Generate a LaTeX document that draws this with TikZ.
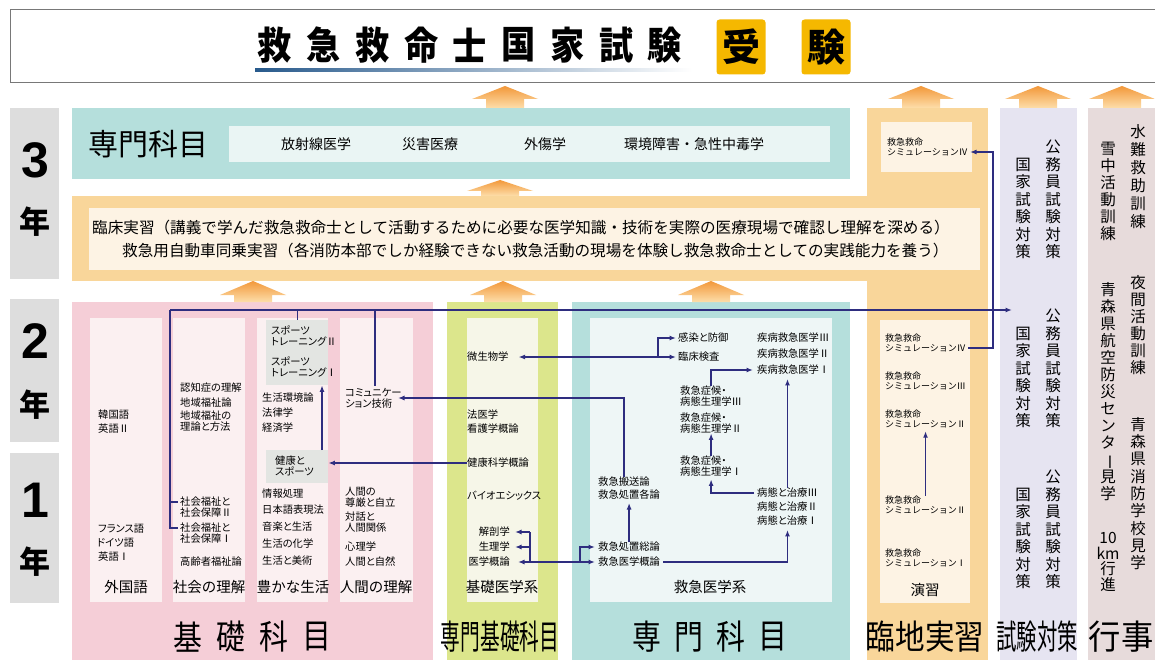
\documentclass[tikz,border=0pt]{standalone}
\usepackage{fontspec}
\setmainfont{Noto Sans CJK JP}
\newfontfamily\jpp{Noto Sans CJK JP}[RawFeature=+palt]
\newfontfamily\arialf{Liberation Sans}
\usetikzlibrary{arrows.meta}
\definecolor{lc}{RGB}{46,45,127}
\definecolor{titgray}{RGB}{120,120,120}
\definecolor{ulblue}{RGB}{40,90,140}
\definecolor{gold}{RGB}{245,184,0}
\definecolor{yr}{RGB}{221,221,221}
\definecolor{tealb}{RGB}{181,223,220}
\definecolor{tealin}{RGB}{234,245,244}
\definecolor{tealin2}{RGB}{238,246,246}
\definecolor{orng}{RGB}{249,214,154}
\definecolor{cream}{RGB}{253,243,228}
\definecolor{lav}{RGB}{230,228,241}
\definecolor{gyoji}{RGB}{231,219,219}
\definecolor{pinkb}{RGB}{245,206,215}
\definecolor{pinkin}{RGB}{251,240,241}
\definecolor{greenb}{RGB}{220,230,140}
\definecolor{greenin}{RGB}{246,246,232}
\definecolor{gbox}{RGB}{227,229,226}
\definecolor{orA}{RGB}{242,152,58}
\definecolor{orB}{RGB}{253,222,170}
\newcommand\orarrow[4]{%
  \shade[top color=orA, bottom color=orB] (#1-33,#3) -- (#1,#2) -- (#1+33,#3) -- (#1+19,#3) -- (#1+19,#4) -- (#1-19,#4) -- (#1-19,#3) -- cycle;}
\newcommand\vbar{\rotatebox[origin=c]{-90}{ー}}
\begin{document}
\begin{tikzpicture}[x=1pt,y=-1pt,
  sm/.style={font=\jpp\fontsize{10.3}{11}\selectfont, anchor=west, align=left, inner sep=0pt},
  smr/.style={sm, anchor=east, align=right},
  sim/.style={font=\fontsize{9}{10}\selectfont, anchor=west, align=left, inner sep=0pt},
  lab/.style={font=\fontsize{14.5}{16}\selectfont, inner sep=0pt},
  mid/.style={font=\fontsize{14}{16}\selectfont, inner sep=0pt},
  vt/.style={font=\fontsize{15.5}{17.5}\selectfont, align=center, inner sep=0pt, anchor=north},
  big/.style={font=\fontsize{34}{36}\selectfont, inner sep=0pt},
  con/.style={draw=lc, line width=1.3pt},
  arr/.style={con, -{Latex[length=6.5pt,width=5pt]}},
]
\useasboundingbox (0,0) rectangle (1155,660);
\fill[white] (0,0) rectangle (1155,660);

% ---------- title ----------
\draw[titgray, line width=1pt, fill=white] (10,10) rectangle (1170,83);
\shade[left color=ulblue, right color=white] (255,68.5) rectangle (692,72);
\foreach \c [count=\i from 0] in {救,急,救,命,士,国,家,試,験}
  \node[font=\fontsize{38}{40}\selectfont\bfseries, inner sep=0pt] (t\i) at (275+48.75*\i,45) {\scalebox{0.9}[1]{\c}};
\node[fill=gold, rounded corners=3pt, minimum width=49pt, minimum height=55pt, inner sep=0pt, font=\fontsize{38}{40}\selectfont\bfseries] (ju) at (741,47) {受};
\node[fill=gold, rounded corners=3pt, minimum width=49pt, minimum height=55pt, inner sep=0pt, font=\fontsize{38}{40}\selectfont\bfseries] (ken) at (826,47) {験};

% ---------- year labels ----------
\fill[yr] (10,108) rectangle (59,279);
\fill[yr] (10,299) rectangle (59,442);
\fill[yr] (10,453) rectangle (59,603);
\node[font=\arialf\fontsize{50}{52}\selectfont\bfseries, inner sep=0pt] (y3) at (35,160) {3};
\node[font=\fontsize{31}{33}\selectfont\bfseries, inner sep=0pt] (y3n) at (35,222) {年};
\node[font=\arialf\fontsize{50}{52}\selectfont\bfseries, inner sep=0pt] (y2) at (35,341) {2};
\node[font=\fontsize{31}{33}\selectfont\bfseries, inner sep=0pt] (y2n) at (35,405) {年};
\node[font=\arialf\fontsize{50}{52}\selectfont\bfseries, inner sep=0pt] (y1) at (35,500) {1};
\node[font=\fontsize{31}{33}\selectfont\bfseries, inner sep=0pt] (y1n) at (35,562) {年};

% ---------- boxes ----------
\fill[tealb] (72,108) rectangle (850,179);
\fill[tealin] (229,126) rectangle (830,162);
\fill[orng] (72,196) rectangle (988,281);
\fill[orng] (867,108) rectangle (988,662);
\fill[cream] (89,208) rectangle (980,270);
\fill[cream] (881,122) rectangle (972,172);
\fill[cream] (880,320) rectangle (970,603);
\fill[lav] (1000,108) rectangle (1077,662);
\fill[gyoji] (1088,108) rectangle (1170,662);
\fill[pinkb] (72,302) rectangle (433,662);
\fill[pinkin] (90,318) rectangle (162,602);
\fill[pinkin] (173,318) rectangle (245,602);
\fill[pinkin] (257,318) rectangle (328,602);
\fill[pinkin] (340,318) rectangle (413,602);
\fill[greenb] (447,302) rectangle (558,662);
\fill[greenin] (467,318) rectangle (538,602);
\fill[tealb] (572,302) rectangle (850,662);
\fill[tealin2] (590,318) rectangle (832,602);
\node[fill=gbox, minimum width=62pt, minimum height=65pt, inner sep=0pt, anchor=north west] (spobox) at (266,320) {};
\node[fill=gbox, minimum width=62pt, minimum height=33pt, inner sep=0pt, anchor=north west] (kenbox) at (266,450) {};

% ---------- orange arrows ----------
\orarrow{505}{86}{99}{108}
\orarrow{921}{86}{99}{108}
\orarrow{1038}{86}{99}{108}
\orarrow{1122}{86}{99}{108}
\orarrow{500}{180}{191}{196}
\orarrow{253}{281}{295}{302}
\orarrow{503}{281}{295}{302}
\orarrow{711}{281}{295}{302}

% ---------- year 3 texts ----------
\node[font=\fontsize{30}{32}\selectfont, inner sep=0pt] (senmon3) at (148,144) {専門科目};
\node[mid] (hosha) at (316,144) {放射線医学};
\node[mid] (saigai) at (430,144) {災害医療};
\node[mid] (gaisho) at (545,144) {外傷学};
\node[mid] (kankyo) at (694,144) {環境障害・急性中毒学};
\node[font=\fontsize{15.6}{18}\selectfont, inner sep=0pt, anchor=west] (rin1) at (92,228) {臨床実習（講義で学んだ救急救命士として活動するために必要な医学知識・技術を実際の医療現場で確認し理解を深める）};
\node[font=\fontsize{15.6}{18}\selectfont, inner sep=0pt, anchor=west] (rin2) at (122,251) {救急用自動車同乗実習（各消防本部でしか経験できない救急活動の現場を体験し救急救命士としての実践能力を養う）};

% ---------- foreign language ----------
\node[sm] (kan) at (98,415) {韓国語};
\node[sm] (ei2) at (98,429) {英語Ⅱ};
\node[sm] (fra) at (98,529) {フランス語};
\node[sm] (doi) at (97,543) {ドイツ語};
\node[sm] (ei1) at (98,557) {英語Ⅰ};
\node[lab] (gaikoku) at (126,587) {外国語};
% society
\node[sm] (nin) at (180,388) {認知症の理解};
\node[sm] (chi1) at (180,403) {地域福祉論};
\node[sm] (chi2) at (180,421) {地域福祉の\\理論と方法};
\node[sm] (sw2) at (180,507) {社会福祉と\\社会保障Ⅱ};
\node[sm] (sw1) at (180,533) {社会福祉と\\社会保障Ⅰ};
\node[sm] (kou) at (180,562) {高齢者福祉論};
\node[lab] (shakai) at (209,587) {社会の理解};
% life
\node[sm] (sp2) at (271,336) {スポーツ\\トレーニングⅡ};
\node[sm] (sp1) at (271,367) {スポーツ\\トレーニングⅠ};
\node[sm] (sei) at (262,398) {生活環境論};
\node[sm] (hou) at (262,413) {法律学};
\node[sm] (kei) at (262,428) {経済学};
\node[sm] (ksp) at (275,466) {健康と\\スポーツ};
\node[sm] (jou) at (262,494) {情報処理};
\node[sm] (nih) at (262,510) {日本語表現法};
\node[sm] (ong) at (262,527) {音楽と生活};
\node[sm] (kag) at (262,544) {生活の化学};
\node[sm] (bij) at (262,561) {生活と美術};
\node[lab] (yutaka) at (293,587) {豊かな生活};
% human
\node[sm] (comm) at (345,398) {コミュニケー\\ション技術};
\node[sm] (son) at (345,497) {人間の\\尊厳と自立};
\node[sm] (tai) at (345,522) {対話と\\人間関係};
\node[sm] (shin) at (345,547) {心理学};
\node[sm] (shz) at (345,562) {人間と自然};
\node[lab] (ningen) at (376,587) {人間の理解};
% basic medicine
\node[sm] (bis) at (467,357) {微生物学};
\node[sm] (hoi) at (467,415) {法医学};
\node[sm] (kgo) at (467,429) {看護学概論};
\node[sm] (kkg) at (467,463) {健康科学概論};
\node[sm] (bio) at (467,496) {バイオエシックス};
\node[smr] (kai) at (510,532) {解剖学};
\node[smr] (seiri) at (510,547) {生理学};
\node[smr] (igk) at (510,562) {医学概論};
\node[lab] (kiso) at (502,587) {基礎医学系};
% emergency medicine
\node[sm] (kans) at (678,338) {感染と防御};
\node[sm] (rin) at (678,357) {臨床検査};
\node[sm] (shi3) at (757,338) {疾病救急医学Ⅲ};
\node[sm] (shi2) at (757,354) {疾病救急医学Ⅱ};
\node[sm] (shi1) at (757,370) {疾病救急医学Ⅰ};
\node[sm] (sho3) at (680,396) {救急症候・\\病態生理学Ⅲ};
\node[sm] (sho2) at (680,423) {救急症候・\\病態生理学Ⅱ};
\node[sm] (sho1) at (680,466) {救急症候・\\病態生理学Ⅰ};
\node[sm] (han) at (598,482) {救急搬送論};
\node[sm] (kak) at (598,495) {救急処置各論};
\node[sm] (sor) at (598,547) {救急処置総論};
\node[sm] (gai) at (598,562) {救急医学概論};
\node[sm] (byo3) at (757,493) {病態と治療Ⅲ};
\node[sm] (byo2) at (757,507) {病態と治療Ⅱ};
\node[sm] (byo1) at (757,521) {病態と治療Ⅰ};
\node[lab] (kyu) at (710,587) {救急医学系};
% simulation
\node[sim] (s4a) at (887,147) {救急救命\\シミュレーションⅣ};
\node[sim] (s4b) at (885,343) {救急救命\\シミュレーションⅣ};
\node[sim] (s3) at (885,381) {救急救命\\シミュレーションⅢ};
\node[sim] (s2a) at (885,419) {救急救命\\シミュレーションⅡ};
\node[sim] (s2b) at (885,505) {救急救命\\シミュレーションⅡ};
\node[sim] (s1) at (885,558) {救急救命\\シミュレーションⅠ};
\node[lab] (ens) at (925,590) {演習};

% ---------- vertical texts ----------
\node[vt] (k3a) at (1053,140) {公\\務\\員\\試\\験\\対\\策};
\node[vt] (k3b) at (1023,157.5) {国\\家\\試\\験\\対\\策};
\node[vt] (k2a) at (1053,309) {公\\務\\員\\試\\験\\対\\策};
\node[vt] (k2b) at (1023,326.5) {国\\家\\試\\験\\対\\策};
\node[vt] (k1a) at (1053,470) {公\\務\\員\\試\\験\\対\\策};
\node[vt] (k1b) at (1023,487.5) {国\\家\\試\\験\\対\\策};
\node[vt, font=\fontsize{15.5}{18}\selectfont] (g1) at (1138,124) {水\\難\\救\\助\\訓\\練};
\node[vt, font=\fontsize{15.5}{17}\selectfont] (g2) at (1108,142) {雪\\中\\活\\動\\訓\\練};
\node[vt, font=\fontsize{15.5}{17}\selectfont] (g3) at (1138,275) {夜\\間\\活\\動\\訓\\練};
\node[vt, font=\fontsize{15.5}{17}\selectfont] (g4) at (1108,282) {青\\森\\県\\航\\空\\防\\災\\セ\\ン\\タ\\\vbar\\見\\学};
\node[vt, font=\fontsize{15.5}{17.3}\selectfont] (g5) at (1138,417) {青\\森\\県\\消\\防\\学\\校\\見\\学};
\node[vt, font=\fontsize{15.5}{15.7}\selectfont] (g6) at (1108,532) {10\\km\\行\\進};

% ---------- big labels ----------
\foreach \c [count=\i from 0] in {基,礎,科,目}
  \node[big] (kk\i) at (187.5+43*\i,637) {\scalebox{0.85}[1]{\c}};
\node[big] (senki) at (500,637) {\scalebox{0.58}[1]{専門基礎科目}};
\foreach \c [count=\i from 0] in {専,門,科,目}
  \node[big] (sm\i) at (646.5+42*\i,637) {\scalebox{0.85}[1]{\c}};
\node[big] (rinchi) at (925,637) {\scalebox{0.87}[1]{臨地実習}};
\node[big] (shiken) at (1037,637) {\scalebox{0.6}[1]{試験対策}};
\node[big] (gyo) at (1121,637) {\scalebox{0.95}[1]{行事}};

% ---------- connectors ----------
\coordinate (Lt) at (170,310);
\coordinate (Lb) at (170,528);
\coordinate (Lm) at (170,502);
\coordinate (Le) at (1012,310);
\coordinate (sw1w) at (Lb -| sw1.west);
\coordinate (sw2w) at (Lm -| sw2.west);
\draw[con] (Lt) -- (Lb) -- ([xshift=-2pt]sw1w);
\draw[con] (Lm) -- ([xshift=-2pt]sw2w);
\draw[arr] (Lt) -- (Le);
\draw[con] (Lt -| spobox.north) -- (spobox.north);
\coordinate (cn) at (375,386);
\draw[con] (Lt -| cn) -- (cn);

\draw[arr] (kkg.west) -- (kkg.west -| kenbox.east);
\coordinate (ku) at (322,450);
\draw[arr] (ku) -- (ku |- spobox.south);

\coordinate (ce) at (398,398);
\draw[arr] (han.north) |- (ce);

\coordinate (bj) at (658,357);
\draw[arr] (bj) -- ([xshift=10pt]bis.east);
\draw[arr] (bj) -- ([xshift=-2pt]rin.west);
\draw[arr] (bj) |- ([xshift=-2pt]kans.west);

\coordinate (kt) at (530,532);
\coordinate (kb) at (530,562);
\coordinate (gj) at (580,562);
\draw[con] (kt) -- (kb) -- (gj);
\draw[arr] (kt) -- ([xshift=5pt]kai.east);
\draw[arr] (kt |- seiri.east) -- ([xshift=5pt]seiri.east);
\draw[arr] (kb) -- ([xshift=8pt]igk.east);
\draw[arr] (gj) -- ([xshift=-3pt]gai.west);
\draw[arr] (gj) |- ([xshift=-3pt]sor.west);

\draw[arr] ([xshift=3pt]gai.east) -| ([yshift=-4pt]byo1.south);
\draw[arr] (byo3.north) -- ([yshift=-4pt]byo3.north |- shi1.south);
\draw[arr] ([xshift=-3pt]byo3.west) -| ([yshift=-3pt]sho1.south);
\draw[arr] (sho1.north) -- (sho1.north |- sho2.south);
\draw[arr] (sho3.north) |- ([xshift=-4pt]shi1.west);
\draw[arr] (sor.north) -- ([yshift=-3pt]sor.north |- kak.south);

\draw[arr] (s2b.north) -- ([yshift=-3pt]s2b.north |- s2a.south);
\coordinate (vr) at (993,0);
\coordinate (p1) at ([yshift=-5pt]s4b.east);
\coordinate (p2) at ([yshift=-5pt]s4a.east);
\draw[arr] ([xshift=2pt]p1) -- (p1 -| vr) -- (p2 -| vr) -- ([xshift=2pt]p2);
\end{tikzpicture}
\end{document}
